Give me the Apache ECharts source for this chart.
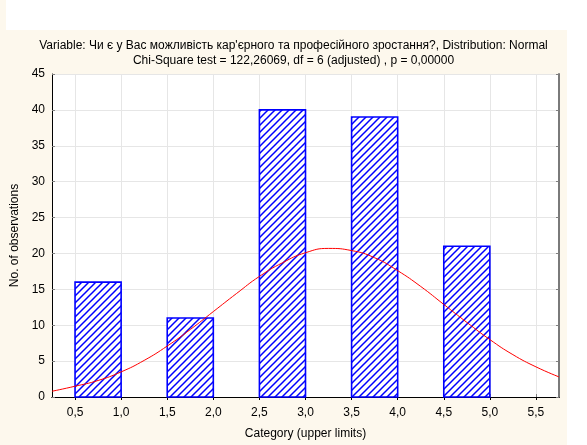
<!DOCTYPE html>
<html>
<head>
<meta charset="utf-8">
<script src="https://cdn.jsdelivr.net/npm/echarts@6/dist/echarts.min.js"></script>
<style>
  html, body { margin: 0; padding: 0; background: #ffffff; }
  #main { width: 587px; height: 445px; }
</style>
</head>
<body>
<div id="main"></div>
<script>
// histogram: категорії (верхні межі) та частоти
var binLower = [0.5, 1.5, 2.5, 3.5, 4.5];
var binUpper = [1.0, 2.0, 3.0, 4.0, 5.0];
var binCounts = [16, 11, 40, 39, 21];

// normal curve
var curveX = [0.25, 0.5, 0.75, 1.0, 1.25, 1.5, 1.75, 2.0, 2.25, 2.5, 2.75, 3.0,
              3.25, 3.5, 3.75, 4.0, 4.25, 4.5, 4.75, 5.0, 5.25, 5.5, 5.75];
var curveY = [0.8, 1.5, 2.3, 3.5, 5.1, 7.1, 9.4, 11.9, 14.4, 16.8, 18.7, 20.1,
              20.7, 20.4, 19.4, 17.6, 15.4, 12.9, 10.4, 8.0, 5.9, 4.2, 2.8];

var xTicks = [0.5, 1.0, 1.5, 2.0, 2.5, 3.0, 3.5, 4.0, 4.5, 5.0, 5.5];

var titleText = 'Variable: Чи є у Вас можливість кар\'єрного та професійного зростання?, Distribution: Normal\n' +
                'Chi-Square test = 122,26069, df = 6 (adjusted) , p = 0,00000';

// hatch pattern
var S = 7;
var hatch = document.createElement('canvas');
hatch.width = S; hatch.height = S;
var hc = hatch.getContext('2d');
hc.fillStyle = '#ffffff';
hc.fillRect(0, 0, S, S);
hc.strokeStyle = '#0000ff';
hc.lineWidth = 1.5;
hc.beginPath();
hc.moveTo(-1, S + 1); hc.lineTo(S + 1, -1);
hc.moveTo(-S / 2 - 1, S / 2 + 1); hc.lineTo(S / 2 + 1, -S / 2 - 1);
hc.moveTo(S / 2 - 1, S * 1.5 + 1); hc.lineTo(S * 1.5 + 1, S / 2 - 1);
hc.stroke();

var barData = binLower.map(function (lo, i) {
    return [lo, binUpper[i], binCounts[i]];
});
var curveData = curveX.map(function (x, i) {
    return [x, curveY[i]];
});

var myChart = echarts.init(document.getElementById('main'));

var fmt = function (v) { return v.toFixed(1).replace('.', ','); };
var font = 'Liberation Sans, Arial, sans-serif';

var option = {
    animation: false,
    backgroundColor: '#ffffff',
    graphic: [
        { type: 'rect', z: -10, shape: { x: 0, y: 30, width: 567, height: 415 }, style: { fill: '#fdf8ed' } },
        { type: 'rect', z: -10, shape: { x: 0, y: 0, width: 6, height: 30 }, style: { fill: '#fdf8ed' } }
    ],
    title: {
        text: titleText,
        left: 'center',
        top: 33,
        textStyle: { fontFamily: font, fontSize: 12, fontWeight: 'normal', color: '#000', lineHeight: 15 }
    },
    grid: { left: 52, right: 28, top: 74, bottom: 43, backgroundColor: '#ffffff', show: true, borderWidth: 0 },
    xAxis: [{
        type: 'value', min: 0.25, max: 5.75,
        name: 'Category (upper limits)', nameLocation: 'middle', nameGap: 31,
        nameTextStyle: { fontFamily: font, fontSize: 12, color: '#000' },
        axisLine: { lineStyle: { color: '#000', width: 1 } },
        axisTick: { inside: true, length: 3, customValues: xTicks, lineStyle: { color: '#808080' } },
        axisLabel: { customValues: xTicks, formatter: fmt, margin: 10, fontFamily: font, fontSize: 12, color: '#000' },
        splitLine: { show: true, lineStyle: { color: '#e6e6e6', width: 1 } }
    }, {
        type: 'value', min: 0.25, max: 5.75, position: 'top',
        axisLine: { lineStyle: { color: '#000', width: 1 } },
        axisTick: { inside: true, length: 3, customValues: xTicks, lineStyle: { color: '#000' } },
        axisLabel: { show: false },
        splitLine: { show: false }
    }],
    yAxis: [{
        type: 'value', min: 0, max: 45, interval: 5,
        name: 'No. of observations', nameLocation: 'middle', nameGap: 28,
        nameTextStyle: { fontFamily: font, fontSize: 12, color: '#000' },
        axisLine: { show: true, lineStyle: { color: '#000', width: 1 } },
        axisTick: { show: true, inside: true, length: 3, lineStyle: { color: '#808080' } },
        axisLabel: { margin: 7, fontFamily: font, fontSize: 12, color: '#000' },
        splitLine: { show: true, lineStyle: { color: '#e6e6e6', width: 1 } }
    }, {
        type: 'value', min: 0, max: 45, interval: 5, position: 'right',
        axisLine: { show: true, lineStyle: { color: '#7a7a7a', width: 2 } },
        axisTick: { show: true, inside: true, length: 3, lineStyle: { color: '#808080' } },
        axisLabel: { show: false },
        splitLine: { show: false }
    }],
    series: [{
        type: 'custom',
        xAxisIndex: 0, yAxisIndex: 0,
        data: barData,
        encode: { x: [0, 1], y: 2 },
        renderItem: function (params, api) {
            var p0 = api.coord([api.value(0), api.value(2)]);
            var p1 = api.coord([api.value(1), 0]);
            return {
                type: 'rect',
                shape: { x: p0[0], y: p0[1], width: p1[0] - p0[0], height: p1[1] - p0[1] },
                style: { fill: { image: hatch, repeat: 'repeat' }, stroke: '#0000ff', lineWidth: 1.6 }
            };
        }
    }, {
        type: 'line',
        xAxisIndex: 0, yAxisIndex: 0,
        data: curveData,
        smooth: true,
        showSymbol: false,
        lineStyle: { color: '#ff0000', width: 1 },
        z: 5
    }]
};

myChart.setOption(option);
</script>
</body>
</html>
